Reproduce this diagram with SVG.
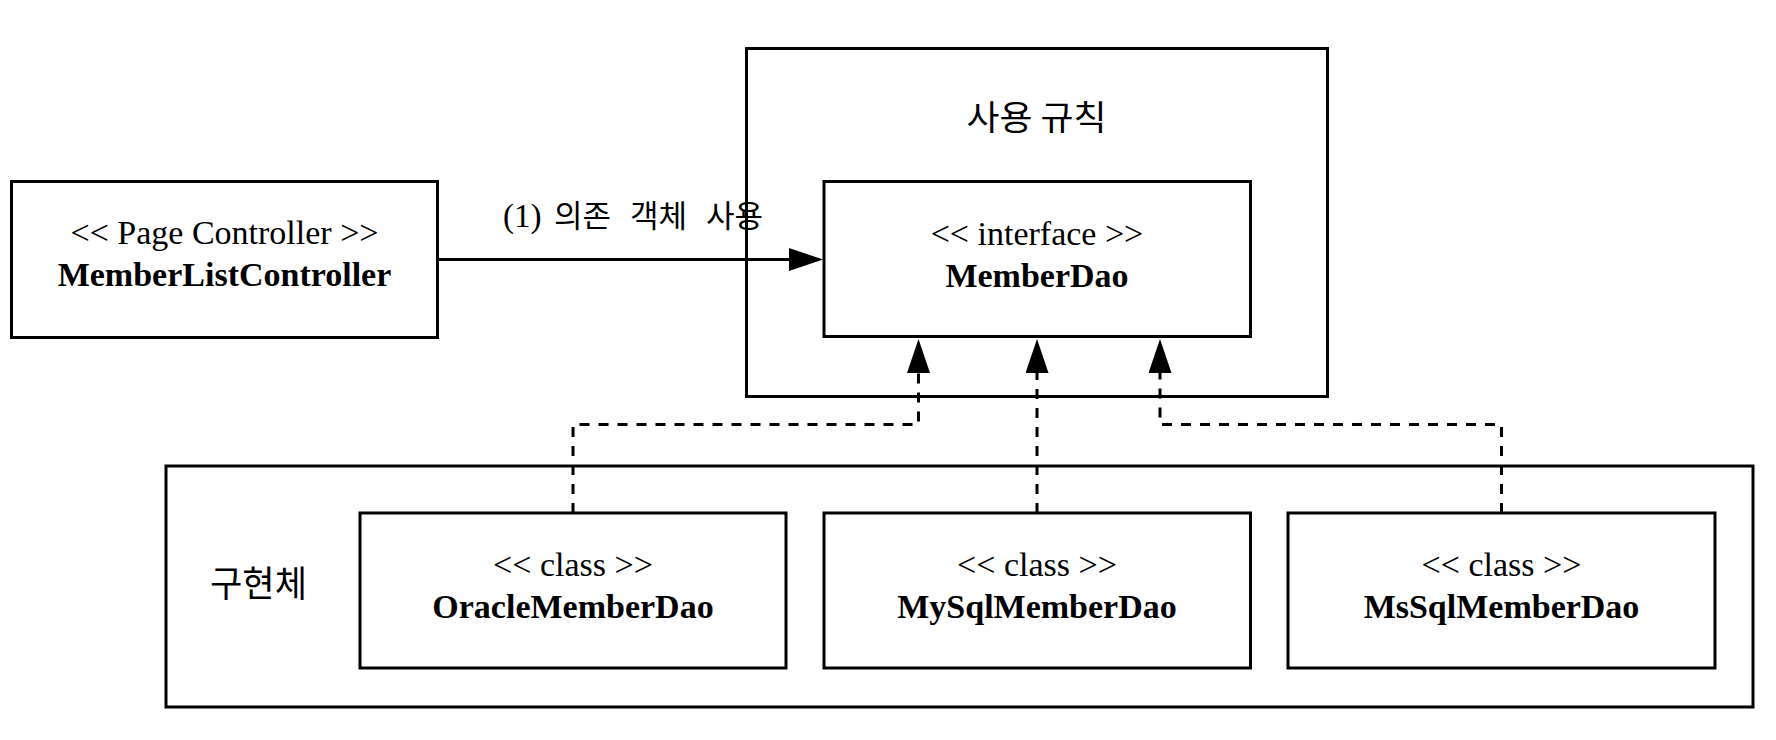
<svg xmlns="http://www.w3.org/2000/svg" width="1776" height="740" viewBox="0 0 1776 740">
  <defs>
    <style>
      .box { fill: #ffffff; stroke: #000000; stroke-width: 3; }
      .txt { font-family: "Liberation Serif", "Noto Sans CJK KR", serif; font-size: 34px; fill: #000000; text-anchor: middle; }
      .bold { font-weight: bold; }
      .kr { font-family: "Noto Sans CJK KR", "Liberation Sans", sans-serif; }
      .edge { fill: none; stroke: #000000; stroke-width: 3; }
      .dash { stroke-dasharray: 10 9; }
      .lbl { font-family: "Liberation Serif", "Noto Sans CJK KR", serif; font-size: 33px; fill: #000000; }
      .lblkr { font-size: 31px; }
    </style>
    <marker id="arrow" viewBox="0 0 34 23" refX="0" refY="11.5" markerWidth="34" markerHeight="23" markerUnits="userSpaceOnUse" orient="auto">
      <path d="M0,0 L34,11.5 L0,23 Z" fill="#000000" stroke="none"/>
    </marker>
  </defs>

  <rect x="0" y="0" width="1776" height="740" fill="#ffffff"/>

  <g id="rule-container">
    <rect class="box" x="746.5" y="48.5" width="581" height="348"/>
    <text class="txt kr" x="1036.5" y="130" textLength="140" lengthAdjust="spacingAndGlyphs">사용 규칙</text>
  </g>

  <g id="impl-container">
    <rect class="box" x="166" y="466" width="1587" height="241"/>
    <text class="txt kr" x="258.5" y="597" style="font-size:36px" textLength="97" lengthAdjust="spacingAndGlyphs">구현체</text>
  </g>

  <g id="member-list-controller">
    <rect class="box" x="11.5" y="181.5" width="426" height="156"/>
    <text class="txt" x="224.5" y="244">&lt;&lt; Page Controller &gt;&gt;</text>
    <text class="txt bold" x="224.5" y="286">MemberListController</text>
  </g>

  <g id="member-dao">
    <rect class="box" x="824" y="181.5" width="426.5" height="155"/>
    <text class="txt" x="1037" y="245">&lt;&lt; interface &gt;&gt;</text>
    <text class="txt bold" x="1037" y="287">MemberDao</text>
  </g>

  <g id="oracle-member-dao">
    <rect class="box" x="360" y="513" width="426" height="155"/>
    <text class="txt" x="573" y="576">&lt;&lt; class &gt;&gt;</text>
    <text class="txt bold" x="573" y="618">OracleMemberDao</text>
  </g>

  <g id="mysql-member-dao">
    <rect class="box" x="824" y="513" width="426.5" height="155"/>
    <text class="txt" x="1037" y="576">&lt;&lt; class &gt;&gt;</text>
    <text class="txt bold" x="1037" y="618">MySqlMemberDao</text>
  </g>

  <g id="mssql-member-dao">
    <rect class="box" x="1288" y="513" width="427" height="155"/>
    <text class="txt" x="1501.5" y="576">&lt;&lt; class &gt;&gt;</text>
    <text class="txt bold" x="1501.5" y="618">MsSqlMemberDao</text>
  </g>

  <g id="connectors">
    <path class="edge" d="M438 259.5 H789" marker-end="url(#arrow)"/>
    <text class="lbl" y="227"><tspan x="503">(1) </tspan><tspan class="lblkr" x="554">의존 </tspan><tspan class="lblkr" x="630">객체 </tspan><tspan class="lblkr" x="706">사용</tspan></text>
    <path class="edge dash" d="M573 513 V424.5 H918.5 V373" marker-end="url(#arrow)"/>
    <path class="edge dash" d="M1037 513 V373" marker-end="url(#arrow)"/>
    <path class="edge dash" d="M1501.5 513 V424.5 H1160 V373" marker-end="url(#arrow)"/>
  </g>
</svg>
